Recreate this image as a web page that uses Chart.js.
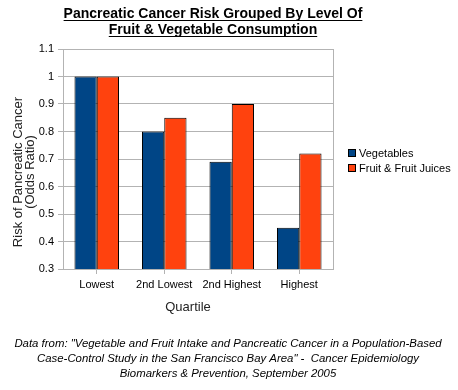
<!DOCTYPE html>
<html>
<head>
<meta charset="utf-8">
<script src="https://cdn.jsdelivr.net/npm/chart.js@4/dist/chart.umd.min.js"></script>
<style>
  html, body { margin: 0; padding: 0; background: #fff; }
  #wrap { width: 458px; height: 390px; }
</style>
</head>
<body>
<div id="wrap"><canvas id="riskChart" width="458" height="390"></canvas></div>
<script>
const quartiles = ["Lowest", "2nd Lowest", "2nd Highest", "Highest"];
const vegetables = [1.0, 0.8, 0.69, 0.45];
const fruitJuices = [1.0, 0.85, 0.9, 0.72];
const seriesNames = ["Vegetables", "Fruit & Fruit Juices"];
const yTicks = [0.3, 0.4, 0.5, 0.6, 0.7, 0.8, 0.9, 1, 1.1];

const titleLines = ["Pancreatic Cancer Risk Grouped By Level Of", "Fruit & Vegetable Consumption"];
const yTitleLines = ["Risk of Pancreatic Cancer", "(Odds Ratio)"];
const xTitle = "Quartile";
const sourceLines = [
  "Data from: \"Vegetable and Fruit Intake and Pancreatic Cancer in a Population-Based",
  "Case-Control Study in the San Francisco Bay Area\" -  Cancer Epidemiology",
  "Biomarkers & Prevention, September 2005"
];

const FONT = "'Liberation Sans', Arial, sans-serif";
const colors = ["#004586", "#ff420e"];

// draws title, axis titles, legend, source note and the plot frame
const decorations = {
  id: "decorations",
  afterDraw(chart) {
    const ctx = chart.ctx;
    const area = chart.chartArea;
    ctx.save();
    ctx.fillStyle = "#000";
    ctx.strokeStyle = "#000";

    // title, bold + underlined
    ctx.font = "bold 14px " + FONT;
    ctx.textAlign = "center";
    ctx.textBaseline = "alphabetic";
    titleLines.forEach((line, i) => {
      const y = 18 + i * 16;
      ctx.fillText(line, 213, y);
      const w = ctx.measureText(line).width;
      ctx.lineWidth = 1;
      ctx.beginPath();
      ctx.moveTo(213 - w / 2, y + 2.5);
      ctx.lineTo(213 + w / 2, y + 2.5);
      ctx.stroke();
    });

    // y title
    ctx.font = "13px " + FONT;
    ctx.fillStyle = "#222";
    ctx.textBaseline = "middle";
    yTitleLines.forEach((line, i) => {
      ctx.save();
      ctx.translate(18 + i * 12, 172);
      ctx.rotate(-Math.PI / 2);
      ctx.fillText(line, 0, 0);
      ctx.restore();
    });

    // x title
    ctx.fillText(xTitle, 188, 307);

    // legend
    ctx.font = "11px " + FONT;
    ctx.textAlign = "left";
    seriesNames.forEach((name, i) => {
      const y = 149 + i * 15;
      ctx.fillStyle = colors[i];
      ctx.fillRect(348, y, 8, 8);
      ctx.strokeStyle = "#000";
      ctx.lineWidth = 1;
      ctx.strokeRect(348.5, y + 0.5, 7, 7);
      ctx.fillStyle = "#000";
      ctx.fillText(name, 359, y + 4.5);
    });

    // source note
    ctx.font = "italic 11.4px " + FONT;
    ctx.textAlign = "center";
    sourceLines.forEach((line, i) => {
      ctx.fillText(line, 228, 344 + i * 15);
    });

    // right frame line
    ctx.strokeStyle = "#b3b3b3";
    ctx.lineWidth = 1;
    ctx.beginPath();
    ctx.moveTo(Math.round(area.right) + 0.5, area.top);
    ctx.lineTo(Math.round(area.right) + 0.5, area.bottom);
    ctx.stroke();
    ctx.restore();
  }
};

new Chart(document.getElementById("riskChart"), {
  type: "bar",
  data: {
    labels: quartiles,
    datasets: [
      {
        label: seriesNames[0],
        data: vegetables,
        backgroundColor: colors[0],
        borderColor: "#000",
        borderWidth: 1,
      },
      {
        label: seriesNames[1],
        data: fruitJuices,
        backgroundColor: colors[1],
        borderColor: "#000",
        borderWidth: 1,
      },
    ],
  },
  options: {
    responsive: false,
    animation: false,
    layout: { padding: { left: 0, right: 125, top: 49, bottom: 91 } },
    plugins: {
      legend: { display: false },
      title: { display: false },
      tooltip: { enabled: false },
    },
    datasets: {
      bar: { categoryPercentage: 0.66, barPercentage: 1.0 },
    },
    scales: {
      x: {
        grid: {
          offset: false,
          drawOnChartArea: false,
          drawTicks: true,
          tickLength: 5,
          color: "#b3b3b3",
        },
        border: { color: "#b3b3b3" },
        ticks: { color: "#000", font: { family: FONT, size: 11 }, padding: 4 },
        afterFit: (scale) => { scale.height = 30; },
      },
      y: {
        min: 0.3,
        max: 1.1,
        afterBuildTicks: (scale) => { scale.ticks = yTicks.map((v) => ({ value: v })); },
        grid: { color: "#b3b3b3", tickLength: 5 },
        border: { color: "#b3b3b3" },
        ticks: {
          color: "#000",
          font: { family: FONT, size: 11 },
          padding: 4,
          callback: (value) => String(Math.round(value * 10) / 10),
        },
        afterFit: (scale) => { scale.width = 63; },
      },
    },
  },
  plugins: [decorations],
});
</script>
</body>
</html>
